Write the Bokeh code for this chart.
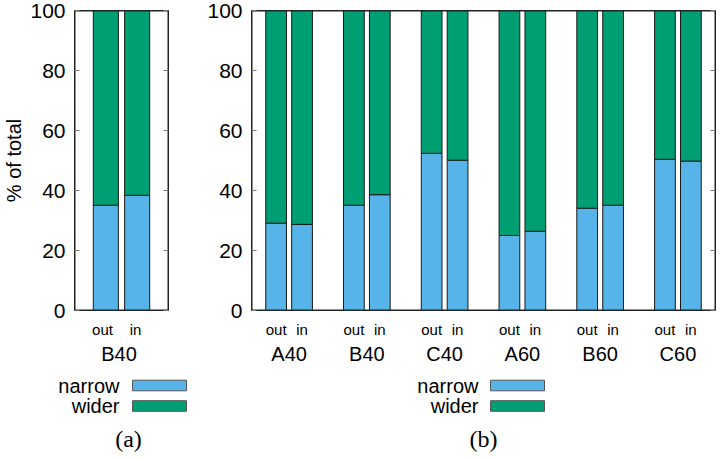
from bokeh.plotting import figure
from bokeh.layouts import row, column
from bokeh.models import (Range1d, FactorRange, LinearAxis, FixedTicker,
                          ColumnDataSource)
from bokeh.core.properties import value
from bokeh.embed import file_html
from bokeh.resources import INLINE

# ---------------- data ----------------
sides = ["out", "in"]
groups_a = ["B40"]
narrow_a_out = [35.1]
narrow_a_in = [38.4]

groups_b = ["A40", "B40", "C40", "A60", "B60", "C60"]
narrow_b_out = [29.1, 35.1, 52.4, 25.0, 34.1, 50.4]
narrow_b_in = [28.7, 38.6, 50.1, 26.4, 35.1, 49.8]

series = ["narrow", "wider"]
colors = ["#56B4E9", "#009E73"]
yticks = [0, 20, 40, 60, 80, 100]
captions = ["(a)", "(b)"]

FONT = "Liberation Sans"
FRAME_TOP = 10
FRAME_H = 300
TOP_B = 10                             # space below frame inside plot figure
TOP_H = FRAME_TOP + FRAME_H + TOP_B    # 320
LAB_H = 50                             # strip with out/in and group labels
BORDER = "#222222"


def build_source(groups, n_out, n_in):
    xs, narrow = [], []
    for g, o, i in zip(groups, n_out, n_in):
        xs += [(g, sides[0]), (g, sides[1])]
        narrow += [o, i]
    return ColumnDataSource(dict(x=xs, narrow=narrow,
                                 top=[100.0] * len(narrow),
                                 zero=[0.0] * len(narrow)))


def yaxis(labels=True):
    ax = LinearAxis(ticker=FixedTicker(ticks=yticks),
                    major_tick_in=5, major_tick_out=0,
                    minor_tick_in=0, minor_tick_out=0,
                    major_tick_line_color="#777777",
                    axis_line_color=BORDER, axis_line_width=1,
                    major_label_text_font=FONT)
    if labels:
        ax.major_label_text_font_size = "21px"
        ax.major_label_text_color = "black"
        ax.major_label_standoff = 9
    else:
        ax.major_label_text_font_size = "1px"
        ax.major_label_text_color = None
        ax.major_label_standoff = 0
    return ax


def panel(groups, n_out, n_in, width, left, right, pad, ytitle):
    src = build_source(groups, n_out, n_in)
    # pad is applied on each side of the factors
    xr = FactorRange(factors=list(src.data["x"]), group_padding=1.0,
                     factor_padding=0.0, range_padding=pad,
                     range_padding_units="absolute")
    p = figure(width=width, height=TOP_H, x_range=xr,
               y_range=Range1d(0, 100),
               x_axis_type=None, y_axis_type=None,
               output_backend="svg", toolbar_location=None,
               min_border_left=left, min_border_right=right,
               min_border_top=FRAME_TOP, min_border_bottom=TOP_B)
    p.outline_line_color = BORDER
    p.outline_line_width = 1
    p.grid.visible = False
    p.background_fill_color = "white"
    p.border_fill_color = "white"

    p.vbar(x="x", bottom="zero", top="narrow", width=0.8, source=src,
           fill_color=colors[0], line_color="#1a1a1a", line_width=1)
    p.vbar(x="x", bottom="narrow", top="top", width=0.8, source=src,
           fill_color=colors[1], line_color="#1a1a1a", line_width=1)

    # frame border drawn as a glyph along the edges of the range
    p.quad(left=[(groups[0], sides[0], -0.5 - pad)],
           right=[(groups[-1], sides[-1], 0.5 + pad)],
           bottom=[yticks[0]], top=[yticks[-1]],
           fill_color=None, line_color=BORDER, line_width=2)

    ya = yaxis(True)
    if ytitle:
        ya.axis_label = ytitle
        ya.axis_label_text_font = FONT
        ya.axis_label_text_font_size = "20px"
        ya.axis_label_text_font_style = "normal"
        ya.axis_label_text_color = "black"
        ya.axis_label_standoff = 2
    p.add_layout(ya, "left")
    p.add_layout(yaxis(False), "right")

    # label strip below the frame, sharing the categorical x range
    s = figure(width=width, height=LAB_H, x_range=xr,
               y_range=Range1d(LAB_H, 0),
               x_axis_type=None, y_axis_type=None,
               output_backend="svg", toolbar_location=None,
               min_border_left=left, min_border_right=right,
               min_border_top=0, min_border_bottom=0)
    s.outline_line_color = None
    s.grid.visible = False
    s.text(x="x", y=8.5, text="side",
           source=ColumnDataSource(dict(
               x=list(src.data["x"]),
               side=[f[1] for f in src.data["x"]])),
           text_font=value(FONT), text_font_size="15px",
           text_align="center", text_baseline="middle", text_color="black")
    s.text(x="g", y=33.7, text="g", source=ColumnDataSource(dict(g=groups)),
           text_font=value(FONT), text_font_size="20px",
           text_align="center", text_baseline="middle", text_color="black")
    return p, s


pa, sa = panel(groups_a, narrow_a_out, narrow_a_in, 190, 69, 22, 0.5,
               "% of total")
pb, sb = panel(groups_b, narrow_b_out, narrow_b_in, 530, 61, 5, 0.45, None)

# ---------------- legends and captions strip ----------------
LEG_H = 460 - TOP_H - LAB_H
leg = figure(width=720, height=LEG_H, x_range=Range1d(0, 720),
             y_range=Range1d(460, TOP_H + LAB_H),
             x_axis_type=None, y_axis_type=None,
             output_backend="svg", toolbar_location=None,
             min_border=0)
leg.outline_line_color = None
leg.grid.visible = False

legend_specs = [  # (text right edge, box left, box right, caption center)
    (119, 132, 186, 128),
    (478, 490, 544, 483),
]
row_y = [385, 405.5]
for (tx, bx0, bx1, cx), cap in zip(legend_specs, captions):
    for name, col, yy in zip(series, colors, row_y):
        leg.quad(left=bx0, right=bx1, bottom=yy - 5.3, top=yy + 5.3,
                 fill_color=col, line_color="#555555", line_width=1)
        leg.text(x=[tx], y=[yy], text=[name], text_font=value(FONT),
                 text_font_size="20px", text_align="right",
                 text_baseline="middle", text_color="black")
    leg.text(x=[cx], y=[438], text=[cap], text_font=value("Liberation Serif"),
             text_font_size="24px", text_align="center",
             text_baseline="middle", text_color="black")

layout = column(row(pa, pb, spacing=0), row(sa, sb, spacing=0), leg,
                spacing=0)

open("out.html", "w").write(file_html(layout, INLINE))
